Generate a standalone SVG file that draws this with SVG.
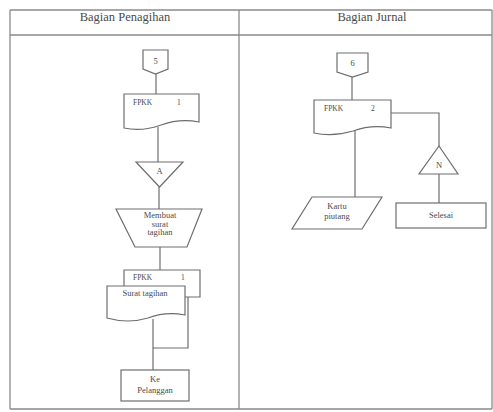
<svg xmlns="http://www.w3.org/2000/svg" width="493" height="412" viewBox="0 0 493 412">
<style>
.frame{fill:none;stroke:#8a8a8a;stroke-width:1.3}
.shape{fill:#fff;stroke:#6e6e6e;stroke-width:1.2}
.line{fill:none;stroke:#6e6e6e;stroke-width:1.2}
.hdr{font-family:"Liberation Serif",serif;font-size:12.5px;fill:#4a4a4a;text-anchor:middle}
.t{font-family:"Liberation Serif",serif;font-size:8.5px;fill:#4a4a4a;text-anchor:middle}
.ts{font-family:"Liberation Serif",serif;font-size:7.5px;fill:#4a4a4a}
</style>
<rect width="493" height="412" fill="#fff"/>
<g id="frame">
<path class="frame" d="M10,10 H492 M10,35 H492 M10,10 V409 M239,10 V409 M492,10 V409 M10,409 H492"/>
<text class="hdr" x="125" y="21">Bagian Penagihan</text>
<text class="hdr" x="372" y="21">Bagian Jurnal</text>
</g>
<g id="connectors">
<path class="line" d="M156,74 V94"/>
<path class="line" d="M158,127 V162"/>
<path class="line" d="M159,187 V209"/>
<path class="line" d="M160,247 V270"/>
<path class="line" d="M188,297 V348 H153"/>
<path class="line" d="M153,319 V370"/>
<path class="line" d="M352,77 V100"/>
<path class="line" d="M391,113 H439 V146"/>
<path class="line" d="M439,174 V203"/>
<path class="line" d="M355,131 V197"/>
</g>
<g id="conn5">
<path class="shape" d="M143,50 H168 V69 L155.5,74 L143,69 Z"/>
<text class="t" x="155.5" y="64">5</text>
</g>
<g id="doc-fpkk1">
<path class="shape" d="M124,94 H199 V122 Q180,118 161,125 Q142,132 124,128 Z"/>
<text class="ts" x="133" y="105">FPKK</text>
<text class="ts" x="177" y="105">1</text>
</g>
<g id="offpage-a">
<path class="shape" d="M136,162 H183 L159.5,187 Z"/>
<text class="t" x="159.5" y="174">A</text>
</g>
<g id="manual-membuat">
<path class="shape" d="M116,209 H202 L187,247 H135 Z"/>
<text class="t" x="160" y="218">Membuat</text>
<text class="t" x="160" y="226.5">surat</text>
<text class="t" x="160" y="235">tagihan</text>
</g>
<g id="doc-fpkk1-copy">
<path class="shape" d="M124,270 H200 V297 H186 L124,297 Z"/>
<text class="ts" x="133" y="280">FPKK</text>
<text class="ts" x="181" y="280">1</text>
</g>
<g id="doc-surat">
<path class="shape" d="M107,286 H185 V315 Q166,311 148,318 Q128,324 107,318 Z"/>
<text class="t" x="145" y="296">Surat tagihan</text>
</g>
<g id="ke-pelanggan">
<rect class="shape" x="121" y="370" width="68" height="31"/>
<text class="t" x="155" y="382">Ke</text>
<text class="t" x="155" y="393">Pelanggan</text>
</g>
<g id="conn6">
<path class="shape" d="M337,53 H368 V72 L352.5,77 L337,72 Z"/>
<text class="t" x="352.5" y="66">6</text>
</g>
<g id="doc-fpkk2">
<path class="shape" d="M314,100 H391 V128 Q372,124 353,131 Q333,137 314,133 Z"/>
<text class="ts" x="324" y="111">FPKK</text>
<text class="ts" x="371" y="111">2</text>
</g>
<g id="offline-n">
<path class="shape" d="M439,146 L458,174 H419 Z"/>
<text class="t" x="439" y="168">N</text>
</g>
<g id="selesai">
<rect class="shape" x="396" y="203" width="90" height="25"/>
<text class="t" x="441" y="218">Selesai</text>
</g>
<g id="kartu-piutang">
<path class="shape" d="M312,197 H382 L362,229 H292 Z"/>
<text class="t" x="337" y="209">Kartu</text>
<text class="t" x="337" y="219">piutang</text>
</g>
</svg>
